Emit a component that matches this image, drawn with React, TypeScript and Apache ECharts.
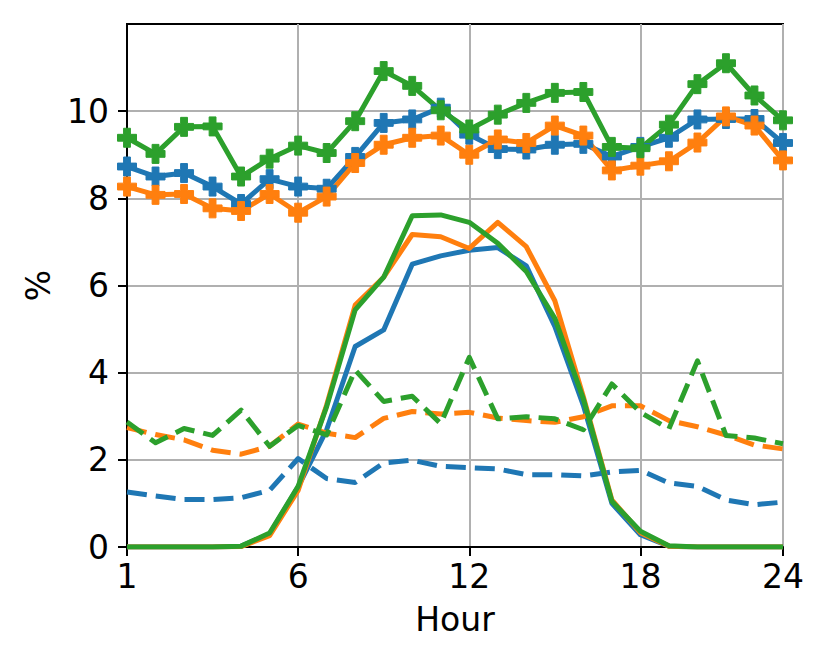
import React, { useEffect, useRef } from "react";
import * as echarts from "echarts";

const hourIndex = [0, 1, 2, 3, 4, 5, 6, 7, 8, 9, 10, 11, 12, 13, 14, 15, 16, 17, 18, 19, 20, 21, 22, 23];
const xTickPositions = [0, 6, 12, 18, 23];
const xTickLabels = ["1", "6", "12", "18", "24"];
const yTickValues = [0, 2, 4, 6, 8, 10];

const upperBlue = [8.73, 8.5, 8.58, 8.27, 7.87, 8.44, 8.27, 8.22, 8.95, 9.73, 9.81, 10.08, 9.46, 9.13, 9.12, 9.23, 9.25, 8.96, 9.18, 9.39, 9.81, 9.82, 9.82, 9.27];
const upperOrange = [8.27, 8.08, 8.1, 7.77, 7.71, 8.1, 7.67, 8.04, 8.81, 9.23, 9.39, 9.44, 9.0, 9.35, 9.27, 9.67, 9.44, 8.64, 8.75, 8.85, 9.28, 9.88, 9.67, 8.87];
const upperGreen = [9.39, 9.02, 9.64, 9.65, 8.5, 8.91, 9.21, 9.04, 9.77, 10.92, 10.58, 10.02, 9.58, 9.92, 10.19, 10.42, 10.44, 9.18, 9.15, 9.69, 10.62, 11.1, 10.36, 9.79];

const solidBlue = [0, 0, 0, 0, 0.02, 0.3, 1.38, 2.69, 4.6, 4.98, 6.49, 6.68, 6.81, 6.87, 6.45, 5.06, 3.25, 1.0, 0.28, 0.02, 0, 0, 0, 0];
const solidOrange = [0, 0, 0, 0, 0.01, 0.26, 1.3, 3.26, 5.55, 6.19, 7.17, 7.12, 6.85, 7.45, 6.89, 5.65, 3.45, 1.08, 0.33, 0.02, 0, 0, 0, 0];
const solidGreen = [0, 0, 0, 0, 0.02, 0.32, 1.39, 3.22, 5.44, 6.19, 7.6, 7.62, 7.45, 6.97, 6.32, 5.25, 3.4, 1.05, 0.36, 0.03, 0, 0, 0, 0];

const dashedBlue = [1.26, 1.17, 1.09, 1.09, 1.13, 1.3, 2.03, 1.57, 1.48, 1.93, 1.99, 1.85, 1.82, 1.79, 1.66, 1.66, 1.63, 1.72, 1.76, 1.47, 1.39, 1.08, 0.97, 1.03];
const dashedOrange = [2.74, 2.58, 2.46, 2.22, 2.13, 2.31, 2.82, 2.61, 2.51, 2.95, 3.11, 3.05, 3.09, 2.96, 2.9, 2.86, 2.99, 3.24, 3.24, 2.9, 2.76, 2.57, 2.34, 2.25];
const dashedGreen = [2.87, 2.39, 2.72, 2.56, 3.14, 2.31, 2.79, 2.57, 4.06, 3.34, 3.46, 2.83, 4.35, 2.94, 2.99, 2.94, 2.69, 3.74, 3.09, 2.71, 4.27, 2.56, 2.5, 2.37];

const BLUE = "#1f77b4";
const ORANGE = "#ff7f0e";
const GREEN = "#2ca02c";
const FONT = "DejaVu Sans";
const PLUS = "path://M1.6,0H3.4V1.6H5V3.4H3.4V5H1.6V3.4H0V1.6H1.6Z";

function pairs(vals: number[]) {
  return hourIndex.map((h, i) => [h, vals[i]]);
}

function lineSeries(name: string, vals: number[], color: string, kind: "solid" | "dashed" | "marker") {
  return {
    name,
    type: "line",
    data: pairs(vals),
    symbol: kind === "marker" ? PLUS : "none",
    symbolSize: 19,
    showSymbol: kind === "marker",
    itemStyle: { color, borderColor: color, borderWidth: 1 },
    lineStyle: {
      color,
      width: 5,
      type: kind === "dashed" ? [20, 9] : "solid",
      cap: "butt",
      join: "round",
    },
    emphasis: { disabled: true },
    silent: true,
  };
}

export default function App() {
  const ref = useRef<HTMLDivElement>(null);
  useEffect(() => {
    if (!ref.current) return;
    const chart = echarts.init(ref.current, undefined, { renderer: "svg" });
    chart.setOption({
      animation: false,
      backgroundColor: "#ffffff",
      grid: {
        left: 127,
        top: 24,
        width: 656,
        height: 523,
        show: true,
        borderColor: "#000000",
        borderWidth: 2,
        backgroundColor: "transparent",
      },
      xAxis: {
        type: "value",
        min: 0,
        max: 23,
        interval: 6,
        name: "Hour",
        nameLocation: "middle",
        nameGap: 56,
        nameTextStyle: { fontFamily: FONT, fontSize: 33, color: "#000" },
        axisLine: { show: true, lineStyle: { color: "#000", width: 2 } },
        axisTick: { show: true, length: 9, lineStyle: { color: "#000", width: 2 }, customValues: xTickPositions },
        axisLabel: {
          customValues: xTickPositions,
          margin: 13,
          fontFamily: FONT,
          fontSize: 33,
          color: "#000",
          formatter: (v: number) => {
            const i = xTickPositions.indexOf(v);
            return i >= 0 ? xTickLabels[i] : "";
          },
        },
        splitLine: { show: true, lineStyle: { color: "#b0b0b0", width: 2 } },
      },
      yAxis: {
        type: "value",
        min: 0,
        max: 12,
        interval: 2,
        name: "%",
        nameLocation: "middle",
        nameRotate: 90,
        nameGap: 72,
        nameTextStyle: { fontFamily: FONT, fontSize: 33, color: "#000" },
        axisLine: { show: true, lineStyle: { color: "#000", width: 2 } },
        axisTick: { show: true, length: 9, lineStyle: { color: "#000", width: 2 }, customValues: yTickValues },
        axisLabel: {
          customValues: yTickValues,
          margin: 18,
          fontFamily: FONT,
          fontSize: 33,
          color: "#000",
          formatter: (v: number) => (yTickValues.indexOf(v) >= 0 ? String(v) : ""),
        },
        splitLine: { show: true, lineStyle: { color: "#b0b0b0", width: 2 } },
      },
      series: [
        lineSeries("blue daytime", solidBlue, BLUE, "solid"),
        lineSeries("blue dashed", dashedBlue, BLUE, "dashed"),
        lineSeries("blue total", upperBlue, BLUE, "marker"),
        lineSeries("orange daytime", solidOrange, ORANGE, "solid"),
        lineSeries("orange dashed", dashedOrange, ORANGE, "dashed"),
        lineSeries("orange total", upperOrange, ORANGE, "marker"),
        lineSeries("green daytime", solidGreen, GREEN, "solid"),
        lineSeries("green dashed", dashedGreen, GREEN, "dashed"),
        lineSeries("green total", upperGreen, GREEN, "marker"),
      ],
    });
    return () => chart.dispose();
  }, []);
  return (
    <div
      ref={ref}
      style={{ position: "absolute", left: 0, top: 0, width: 830, height: 664, background: "#fff" }}
    />
  );
}
